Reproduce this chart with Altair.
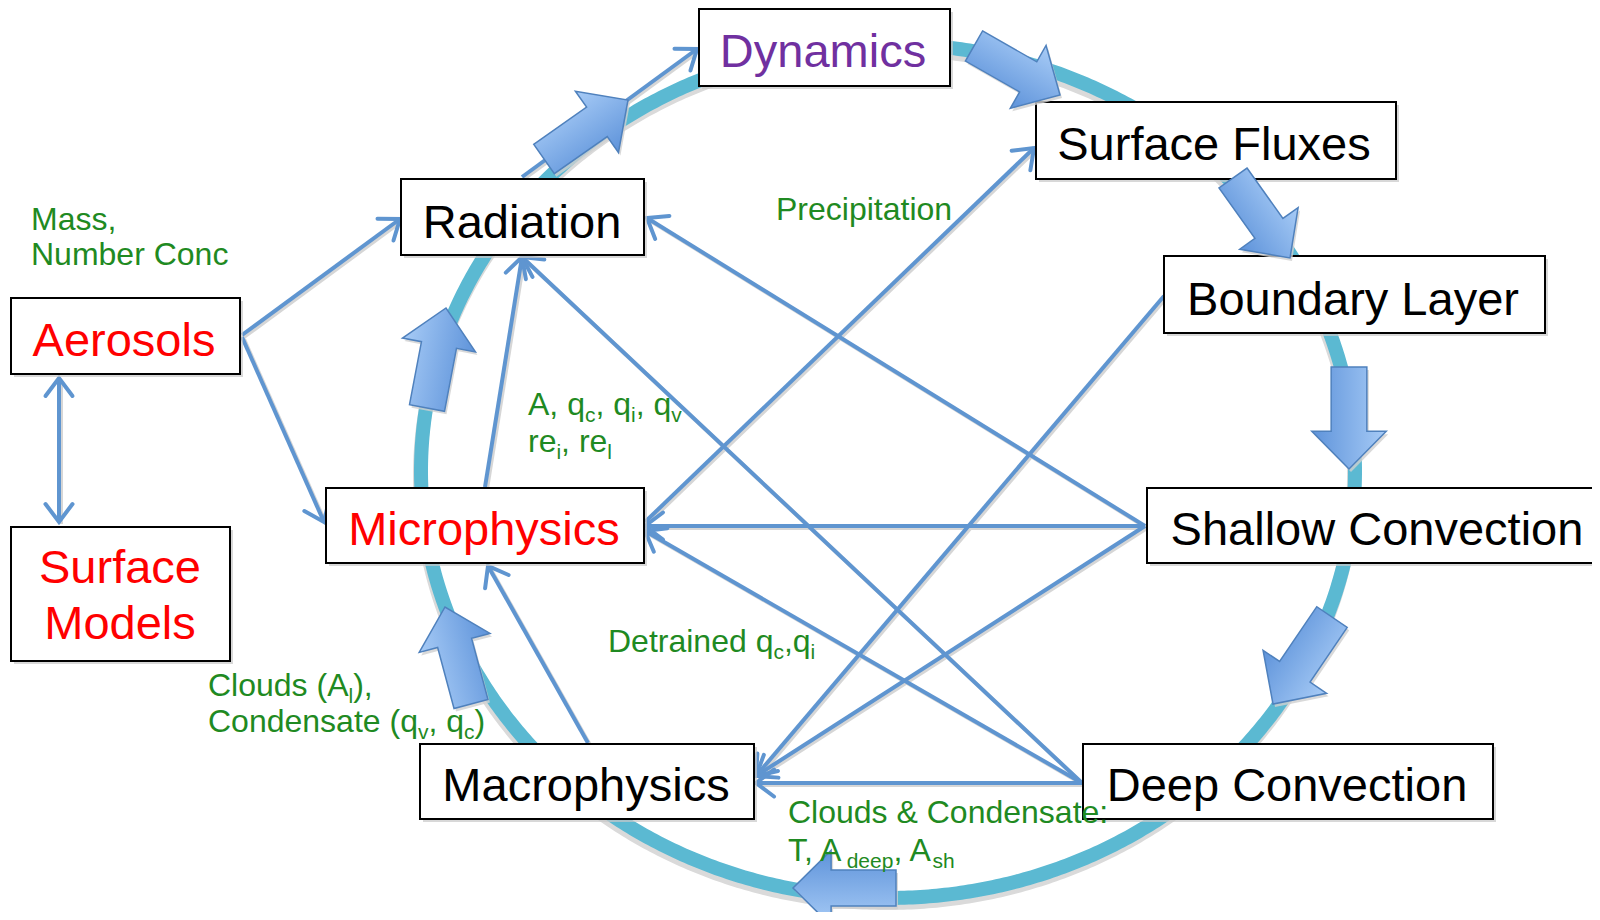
import math
import numpy as np
import pandas as pd
import altair as alt

# ---------------- data (page pixel coordinates) ----------------
BOX_X1 = [699, 1036, 401, 1164, 11, 326, 1147, 11, 420, 1083]
BOX_X2 = [950, 1396, 644, 1545, 240, 644, 1640, 230, 754, 1493]
BOX_Y1 = [9, 102, 179, 256, 298, 488, 488, 527, 744, 744]
BOX_Y2 = [86, 179, 255, 333, 374, 563, 563, 661, 819, 819]

LABEL_TEXT = ["Dynamics", "Surface Fluxes", "Radiation", "Boundary Layer", "Aerosols",
              "Microphysics", "Shallow Convection", "Surface", "Models", "Macrophysics",
              "Deep Convection"]
LABEL_X = [823, 1214, 522, 1353, 124, 484, 1377, 120, 120, 586, 1287]
LABEL_Y = [67, 160, 238, 315, 356, 545, 545, 583, 639, 801, 801]
LABEL_COLOR = ["#7030A0", "#000000", "#000000", "#000000", "#FF0000", "#FF0000",
               "#000000", "#FF0000", "#FF0000", "#000000", "#000000"]

# ring (ellipse) centre and radii
RING_CX, RING_CY, RING_RX, RING_RY = 888, 471, 467, 427

# thin connector arrows: start -> end (head at end)
LINE_X1 = [242, 242, 59, 522, 485, 588, 645, 1145, 1145, 1145, 1164, 1082, 1082, 1082]
LINE_Y1 = [335, 337, 378, 177, 487, 743, 522, 526, 526, 526, 296, 783, 783, 783]
LINE_X2 = [400, 324, 59, 697, 522, 488, 1034, 647, 645, 756, 756, 522, 645, 756]
LINE_Y2 = [219, 522, 522, 49, 257, 566, 148, 218, 526, 776, 776, 257, 531, 783]
LINE_BOTH = [0, 0, 1, 0, 0, 0, 0, 0, 0, 0, 0, 0, 0, 0]

# block arrows around the ring: tail centre -> tip
BLK_TX = [544, 974, 1233, 1349, 1332, 896, 471, 427]
BLK_TY = [159, 46, 178, 367, 617, 888, 704, 408]
BLK_HX = [628, 1060, 1290, 1349, 1273, 793, 445, 446]
BLK_HY = [100, 95, 258, 469, 704, 888, 607, 308]

# green annotations: (left x, baseline y, fragments (text, is_subscript))
NOTES = [
    (31, 230, [("Mass,", 0)]),
    (31, 265, [("Number Conc", 0)]),
    (776, 220, [("Precipitation", 0)]),
    (528, 415, [("A, q", 0), ("c", 1), (", q", 0), ("i", 1), (", q", 0), ("v", 1)]),
    (528, 452, [("re", 0), ("i", 1), (", re", 0), ("l", 1)]),
    (208, 696, [("Clouds (A", 0), ("l", 1), ("),", 0)]),
    (208, 732, [("Condensate (q", 0), ("v", 1), (", q", 0), ("c", 1), (")", 0)]),
    (608, 652, [("Detrained q", 0), ("c", 1), (",q", 0), ("i", 1)]),
    (788, 823, [("Clouds & Condensate:", 0)]),
    (788, 861, [("T, A", 0), ("deep", 1), (", A", 0), ("sh", 1)]),
]

# ---------------- styling ----------------
FONT = "Liberation Sans"
BOX_FS = 47
NOTE_FS = 32
SUB_FS = 21
SUB_DY = 7
GREEN = "#1F8A22"
LINE_C = "#5F95D0"
RING_C = "#5BB9D2"

# Arial advance widths (em) for layout of subscript fragments
ADV = {'A': .667, ',': .278, ' ': .278, 'q': .556, 'c': .5, 'i': .222, 'v': .5, 'r': .333,
       'e': .556, 'l': .222, 'C': .722, 'o': .556, 'u': .556, 'd': .556, 's': .5, '(': .333,
       ')': .333, 'n': .556, 'a': .556, 't': .278, '&': .667, ':': .278, 'T': .611, 'p': .556,
       'h': .556, 'D': .722, 'M': .833, 'N': .722, 'm': .833, 'b': .556, 'P': .667}

W, H = 1584, 904
X0, Y0 = 8, 8
xs = alt.Scale(domain=[X0, X0 + W], nice=False, zero=False)
ys = alt.Scale(domain=[Y0, Y0 + H], nice=False, zero=False, reverse=True)


def X(f):
    return alt.X(f, type="quantitative", scale=xs, axis=None)


def Y(f):
    return alt.Y(f, type="quantitative", scale=ys, axis=None)


# ring
t = np.linspace(0, 2 * np.pi, 721)
ring = pd.DataFrame({"x": RING_CX + RING_RX * np.cos(t), "y": RING_CY + RING_RY * np.sin(t),
                     "o": np.arange(len(t))})
ring_sh = ring.assign(x=ring.x - 1, y=ring.y + 5)

ring_shadow_layer = alt.Chart(ring_sh).mark_line(color="#DADADA", strokeWidth=14, clip=True).encode(
    x=X("x"), y=Y("y"), order="o:Q")
ring_layer = alt.Chart(ring).mark_line(color=RING_C, strokeWidth=14, clip=True).encode(
    x=X("x"), y=Y("y"), order="o:Q")

# thin lines
lines = pd.DataFrame({"x": LINE_X1, "y": LINE_Y1, "x2": LINE_X2, "y2": LINE_Y2})
lines_sh = lines.assign(x=lines.x + 2, y=lines.y + 2, x2=lines.x2 + 2, y2=lines.y2 + 2)
line_shadow_layer = alt.Chart(lines_sh).mark_rule(color="#D6D6D6", strokeWidth=4).encode(
    x=X("x"), y=Y("y"), x2="x2:Q", y2="y2:Q")
line_layer = alt.Chart(lines).mark_rule(color=LINE_C, strokeWidth=4).encode(
    x=X("x"), y=Y("y"), x2="x2:Q", y2="y2:Q")

heads = []
for x1, y1, x2, y2, both in zip(LINE_X1, LINE_Y1, LINE_X2, LINE_Y2, LINE_BOTH):
    a = math.degrees(math.atan2(y2 - y1, x2 - x1)) % 360
    heads.append({"x": x2, "y": y2, "angle": a})
    if both:
        heads.append({"x": x1, "y": y1, "angle": (a + 180) % 360})
heads = pd.DataFrame(heads)
HEAD_PATH = "M-1,-0.75L0,0L-1,0.75"
head_layer = alt.Chart(heads).mark_point(
    shape=HEAD_PATH, filled=False, stroke=LINE_C, strokeWidth=4, size=1296, opacity=1,
    strokeCap="round", strokeJoin="miter").encode(
    x=X("x"), y=Y("y"), angle=alt.Angle("angle:Q", scale=None))

# block arrows
blk = []
for tx, ty, hx, hy in zip(BLK_TX, BLK_TY, BLK_HX, BLK_HY):
    L = math.hypot(hx - tx, hy - ty)
    blk.append({"x": (tx + hx) / 2, "y": (ty + hy) / 2,
                "angle": math.degrees(math.atan2(hy - ty, hx - tx)) % 360,
                "size": L * L})
blk = pd.DataFrame(blk)
BLOCK_PATH = "M-1,-0.35L0.26,-0.35L0.26,-0.73L1,0L0.26,0.73L0.26,0.35L-1,0.35Z"
grad = alt.Gradient(gradient="linear",
                    stops=[alt.GradientStop(color="#A7CBF6", offset=0),
                           alt.GradientStop(color="#5E93DA", offset=1)],
                    x1=0, x2=0, y1=0, y2=1)
blk_sh = blk.assign(x=blk.x + 2, y=blk.y + 3)
block_shadow_layer = alt.Chart(blk_sh).mark_point(
    shape=BLOCK_PATH, filled=True, fill="#D0D0D0", strokeWidth=0, opacity=0.8, clip=True).encode(
    x=X("x"), y=Y("y"), angle=alt.Angle("angle:Q", scale=None), size=alt.Size("size:Q", scale=None))
block_layer = alt.Chart(blk).mark_point(
    shape=BLOCK_PATH, filled=True, fill=grad, stroke="#4F81BD", strokeWidth=1.5, opacity=1,
    clip=True).encode(
    x=X("x"), y=Y("y"), angle=alt.Angle("angle:Q", scale=None), size=alt.Size("size:Q", scale=None))

# boxes
boxes = pd.DataFrame({"x": BOX_X1, "x2": BOX_X2, "y": BOX_Y1, "y2": BOX_Y2})
boxes_sh = boxes.assign(x=boxes.x + 3, x2=boxes.x2 + 3, y=boxes.y + 3, y2=boxes.y2 + 3)
box_shadow_layer = alt.Chart(boxes_sh).mark_rect(fill="#C8C8C8", opacity=0.7, clip=True).encode(
    x=X("x"), x2="x2:Q", y=Y("y"), y2="y2:Q")
box_layer = alt.Chart(boxes).mark_rect(fill="white", stroke="black", strokeWidth=2, clip=True).encode(
    x=X("x"), x2="x2:Q", y=Y("y"), y2="y2:Q")

labels = pd.DataFrame({"t": LABEL_TEXT, "x": LABEL_X, "y": LABEL_Y, "c": LABEL_COLOR})
label_layer = alt.Chart(labels).mark_text(
    font=FONT, fontSize=BOX_FS, align="center", baseline="alphabetic").encode(
    x=X("x"), y=Y("y"), text="t:N", color=alt.Color("c:N", scale=None))

# green notes with subscripts
frags = []
for lx, by, parts in NOTES:
    cx = lx
    for txt, sub in parts:
        fs = SUB_FS if sub else NOTE_FS
        frags.append({"t": txt, "x": cx, "y": by + (SUB_DY if sub else 0), "fs": fs})
        cx += sum(ADV.get(ch, 0.556) for ch in txt) * fs
frags = pd.DataFrame(frags)
note_layer = alt.Chart(frags).mark_text(
    font=FONT, align="left", baseline="alphabetic", color=GREEN).encode(
    x=X("x"), y=Y("y"), text="t:N", size=alt.Size("fs:Q", scale=None))

chart = alt.layer(
    ring_shadow_layer, ring_layer, line_shadow_layer, line_layer, head_layer,
    box_shadow_layer, box_layer, block_shadow_layer, block_layer, label_layer, note_layer
).properties(
    width=W, height=H, padding=0, autosize=alt.AutoSizeParams(type="none"), background="white"
).configure_view(stroke=None)

chart.save("out.html", embed_options={"renderer": "svg", "actions": False})
